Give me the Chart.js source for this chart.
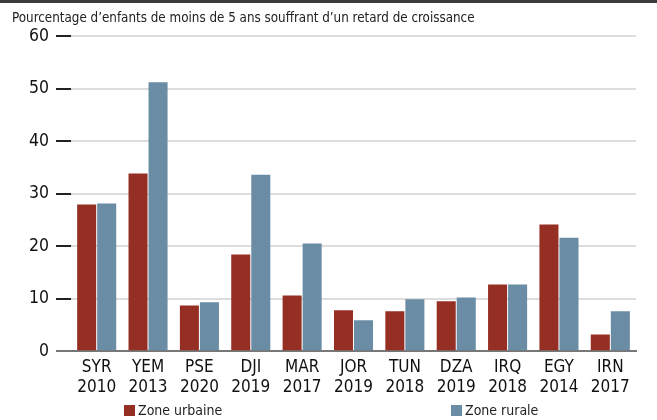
<!DOCTYPE html>
<html><head><meta charset="utf-8">
<script src="https://cdn.jsdelivr.net/npm/chart.js@4/dist/chart.umd.min.js"></script>
<style>
html,body{margin:0;padding:0;background:#fff;}
#wrap{position:relative;width:657px;height:420px;overflow:hidden;}
#topbar{position:absolute;left:0;top:0;width:657px;height:3px;background:#3a3a3a;}
#c{position:absolute;left:0;top:0;}
#legend{position:absolute;top:401px;left:0;width:657px;height:18px;font-family:"Liberation Sans Narrow","DejaVu Sans Condensed",sans-serif;font-size:14px;color:#222;}
.li{position:absolute;top:0;line-height:18px;white-space:nowrap;}
.sw{display:inline-block;width:11px;height:11px;margin-right:3px;vertical-align:-1px;}
</style></head>
<body>
<div id="wrap">
<canvas id="c" width="657" height="420"></canvas>
<div id="topbar"></div>
<div id="legend"></div>
</div>
<script>
const categories = [["SYR","2010"],["YEM","2013"],["PSE","2020"],["DJI","2019"],["MAR","2017"],["JOR","2019"],["TUN","2018"],["DZA","2019"],["IRQ","2018"],["EGY","2014"],["IRN","2017"]];
const urbanValues = [27.9, 33.8, 8.7, 18.4, 10.6, 7.8, 7.6, 9.5, 12.7, 24.1, 3.2];
const ruralValues = [28.1, 51.2, 9.3, 33.6, 20.5, 5.9, 9.9, 10.2, 12.7, 21.6, 7.6];
const seriesNames = ["Zone urbaine", "Zone rurale"];
const yTicks = [0, 10, 20, 30, 40, 50, 60];
const titleText = "Pourcentage d\u2019enfants de moins de 5 ans souffrant d\u2019un retard de croissance";

const FONT = '"Liberation Sans Narrow","DejaVu Sans Condensed",sans-serif';
const colors = ["#952f24", "#6a8ca5"];

const chart = new Chart(document.getElementById('c'), {
  type: 'bar',
  data: {
    labels: categories,
    datasets: [
      {label: seriesNames[0], data: urbanValues, backgroundColor: colors[0]},
      {label: seriesNames[1], data: ruralValues, backgroundColor: colors[1]}
    ]
  },
  options: {
    responsive: false,
    animation: false,
    layout: {padding: {left: 12, right: 21, top: 4, bottom: 16}},
    plugins: {
      legend: {display: false},
      tooltip: {enabled: false},
      title: {display: true, text: titleText, align: 'start', color: '#222',
        font: {family: FONT, size: 13.3, weight: 'normal'}, padding: {top: 7, bottom: 9}}
    },
    datasets: {bar: {categoryPercentage: 0.78, barPercentage: 0.95}},
    scales: {
      x: {
        grid: {display: false, drawTicks: false},
        border: {display: true, color: '#777', width: 2},
        ticks: {color: '#111', font: {family: FONT, size: 17}, padding: 6, maxRotation: 0, autoSkip: false}
      },
      y: {
        min: 0, max: 60,
        afterBuildTicks: (s) => { s.ticks = yTicks.map(v => ({value: v})); },
        afterFit: (s) => { s.width = 59; },
        grid: {color: '#dddddd', lineWidth: 2,
          tickColor: (ctx) => (ctx.tick && ctx.tick.value === 0) ? '#777' : '#222',
          tickLength: 15, drawTicks: true},
        border: {display: false},
        ticks: {color: '#111', font: {family: FONT, size: 17.5}, padding: 7}
      }
    }
  }
});

const lg = document.getElementById('legend');
const positions = [124, 451];
chart.data.datasets.forEach((ds, i) => {
  const d = document.createElement('div');
  d.className = 'li';
  d.style.left = positions[i] + 'px';
  const sw = document.createElement('span');
  sw.className = 'sw';
  sw.style.background = ds.backgroundColor;
  d.appendChild(sw);
  d.appendChild(document.createTextNode(ds.label));
  lg.appendChild(d);
});
</script>
</body></html>
